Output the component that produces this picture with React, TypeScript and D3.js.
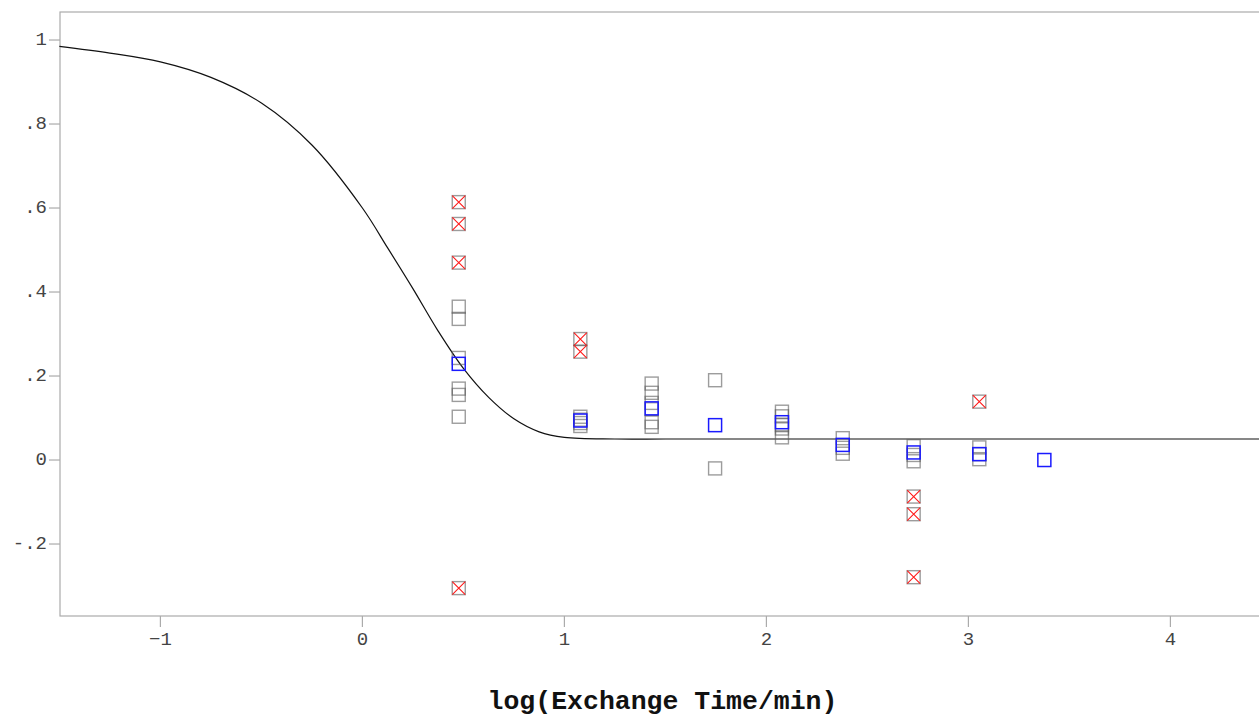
import React from "react";
import * as d3 from "d3";

// x positions (log of exchange time, min) of each sampled time point
const timeLogs = [0.477, 1.079, 1.432, 1.746, 2.077, 2.378, 2.729, 3.054, 3.376];

// individual replicate values (grey squares), one list per time point
const replicateValues: number[][] = [
  [0.365, 0.336, 0.243, 0.17, 0.155, 0.103],
  [0.103, 0.096, 0.088, 0.081],
  [0.182, 0.16, 0.136, 0.121, 0.09, 0.079],
  [0.19, -0.02],
  [0.115, 0.104, 0.083, 0.075, 0.054],
  [0.052, 0.029, 0.015],
  [0.033, 0.012, -0.003],
  [0.03, 0.014, 0.002],
  [],
];

// mean values (blue squares)
const meanValues = [0.229, 0.094, 0.123, 0.083, 0.09, 0.036, 0.018, 0.014, 0.0];

// rejected points (grey squares with red cross)
const outlierX = [0.477, 0.477, 0.477, 0.477, 1.079, 1.079, 2.729, 2.729, 2.729, 3.054];
const outlierY = [0.614, 0.562, 0.47, -0.305, 0.288, 0.258, -0.087, -0.129, -0.279, 0.139];

// fitted curve
const curveX = [-1.5, -1.25, -1.0, -0.75, -0.5, -0.25, 0, 0.125, 0.25, 0.375, 0.5, 0.625, 0.75, 0.875, 1.0, 1.25, 1.5, 2.0, 3.0, 4.0, 4.5];
const curveY = [0.985, 0.969, 0.948, 0.911, 0.85, 0.75, 0.6, 0.505, 0.408, 0.307, 0.218, 0.149, 0.098, 0.067, 0.054, 0.05, 0.05, 0.05, 0.05, 0.05, 0.05];

const xTicks = [-1, 0, 1, 2, 3, 4];
const yTicks = [-0.2, 0, 0.2, 0.4, 0.6, 0.8, 1];
const xTitle = "log(Exchange Time/min)";

const fmtY = (v: number) => {
  if (v === 0) return "0";
  if (v === 1) return "1";
  const s = v.toFixed(1);
  return s.replace("0.", ".");
};
const fmtX = (v: number) => (v < 0 ? "\u2212" + Math.abs(v) : String(v));

export default function App() {
  const W = 1259;
  const H = 718;
  const left = 60;
  const top = 12;
  const bottom = 616;
  const x = d3.scaleLinear().domain([-1.5, 4.45]).range([59.4, 1261.3]);
  const y = d3.scaleLinear().domain([-0.3714, 1.0667]).range([bottom, top]);
  const right = 1262;

  const line = d3
    .line<number>()
    .x((_, i) => x(curveX[i]))
    .y((d) => y(d))
    .curve(d3.curveCatmullRom.alpha(0.5));

  const S = 13;
  const axisColor = "#ababab";
  const font = "'Liberation Mono', 'DejaVu Sans Mono', monospace";

  return (
    <svg
      width={W}
      height={H}
      style={{ position: "absolute", left: 0, top: 0, background: "#fff" }}
    >
      <rect x={0} y={0} width={W} height={H} fill="#fff" />
      {/* frame */}
      <rect
        x={left}
        y={top}
        width={right - left}
        height={bottom - top}
        fill="none"
        stroke={axisColor}
        strokeWidth={1.2}
      />
      {/* y ticks */}
      {yTicks.map((t) => (
        <g key={"y" + t}>
          <line x1={49} x2={left} y1={y(t)} y2={y(t)} stroke={axisColor} strokeWidth={1.2} />
          <text
            x={47}
            y={y(t)}
            textAnchor="end"
            dominantBaseline="central"
            fontFamily={font}
            fontSize={19}
            fill="#444"
          >
            {fmtY(t)}
          </text>
        </g>
      ))}
      {/* x ticks */}
      {xTicks.map((t) => (
        <g key={"x" + t}>
          <line x1={x(t)} x2={x(t)} y1={bottom} y2={627} stroke={axisColor} strokeWidth={1.2} />
          <text
            x={x(t)}
            y={645}
            textAnchor="middle"
            fontFamily={font}
            fontSize={19}
            fill="#444"
          >
            {fmtX(t)}
          </text>
        </g>
      ))}
      <text
        x={662.5}
        y={709}
        textAnchor="middle"
        fontFamily={font}
        fontSize={26.5}
        fontWeight="bold"
        fill="#111"
      >
        {xTitle}
      </text>

      {/* curve */}
      <path d={line(curveY) || ""} fill="none" stroke="#111" strokeWidth={1.2} />

      {/* replicate squares */}
      {replicateValues.map((vals, i) =>
        vals.map((v, j) => (
          <rect
            key={"r" + i + "-" + j}
            x={x(timeLogs[i]) - S / 2}
            y={y(v) - S / 2}
            width={S}
            height={S}
            fill="none"
            stroke="rgba(90,90,90,0.6)"
            strokeWidth={1.4}
          />
        ))
      )}
      {/* outliers */}
      {outlierX.map((ox, i) => {
        const cx = x(ox);
        const cy = y(outlierY[i]);
        return (
          <g key={"o" + i}>
            <rect
              x={cx - S / 2}
              y={cy - S / 2}
              width={S}
              height={S}
              fill="none"
              stroke="rgba(90,90,90,0.6)"
              strokeWidth={1.4}
            />
            <path
              d={`M${cx - S / 2},${cy - S / 2}L${cx + S / 2},${cy + S / 2}M${cx + S / 2},${cy - S / 2}L${cx - S / 2},${cy + S / 2}`}
              stroke="#ff1a1a"
              strokeWidth={1.1}
            />
          </g>
        );
      })}
      {/* means */}
      {meanValues.map((v, i) => (
        <rect
          key={"m" + i}
          x={x(timeLogs[i]) - S / 2}
          y={y(v) - S / 2}
          width={S}
          height={S}
          fill="none"
          stroke="#1a1aff"
          strokeWidth={1.5}
        />
      ))}
    </svg>
  );
}
